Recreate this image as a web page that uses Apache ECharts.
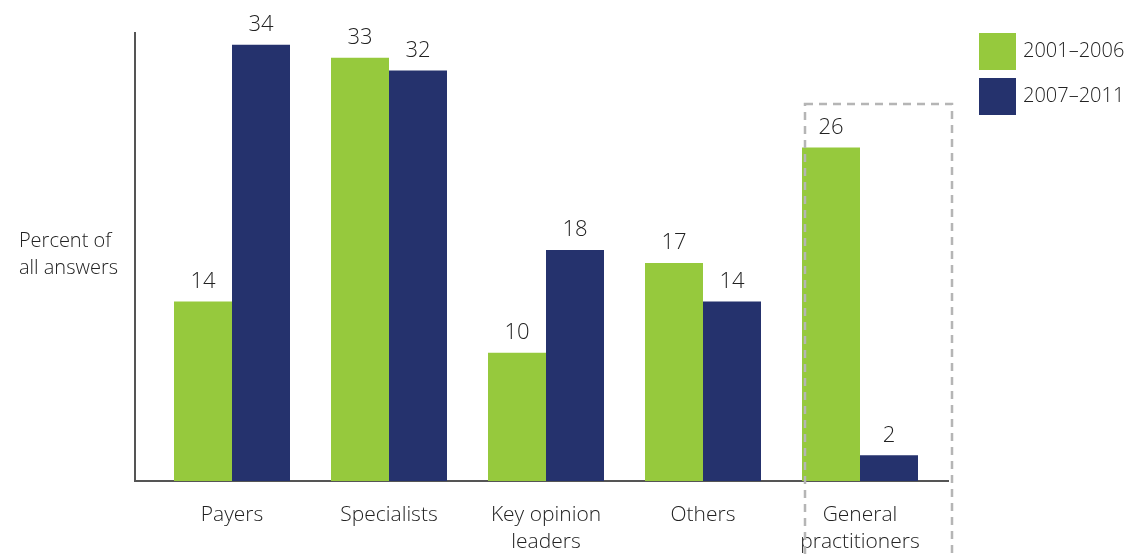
<!DOCTYPE html>
<html>
<head>
<meta charset="utf-8">
<script src="https://cdn.jsdelivr.net/npm/echarts@6/dist/echarts.min.js"></script>
<style>
  html, body { margin: 0; padding: 0; background: #fff; }
  #chart { width: 1130px; height: 558px; }
</style>
</head>
<body>
<div id="chart"></div>
<script>
const categories = ['Payers', 'Specialists', 'Key opinion\nleaders', 'Others', 'General\npractitioners']
const seriesNames = ['2001–2006', '2007–2011']
const early = [14, 33, 10, 17, 26]
const late = [34, 32, 18, 14, 2]

const GREEN = '#96c93d'
const NAVY = '#25326d'
const FONT = 'Open Sans'
const TEXT = '#222'

const chart = echarts.init(document.getElementById('chart'))

const labelStyle = {
  show: true,
  position: 'top',
  distance: 9,
  color: TEXT,
  fontSize: 22,
  fontWeight: 300,
  fontFamily: FONT
}

const option = {
  animation: false,
  backgroundColor: '#ffffff',
  textStyle: { fontFamily: FONT },
  grid: { left: 153.5, width: 785, top: 32, bottom: 77 },
  legend: {
    orient: 'vertical',
    left: 979,
    top: 33,
    padding: 0,
    itemWidth: 37,
    itemHeight: 37,
    itemGap: 8,
    icon: 'rect',
    data: seriesNames,
    textStyle: { fontSize: 20, fontWeight: 300, color: TEXT, fontFamily: FONT, padding: [0, 0, 0, 2] }
  },
  xAxis: {
    type: 'category',
    data: categories,
    axisLine: { show: false },
    axisTick: { show: false },
    axisLabel: {
      margin: 21,
      fontSize: 21,
      fontWeight: 300,
      lineHeight: 27,
      color: TEXT,
      fontFamily: FONT,
      interval: 0
    }
  },
  yAxis: {
    type: 'value',
    min: 0,
    max: 35,
    show: false
  },
  graphic: [
    // axes lines
    { type: 'line', shape: { x1: 135, y1: 32, x2: 135, y2: 481 }, style: { stroke: '#555', lineWidth: 2 } },
    { type: 'line', shape: { x1: 134, y1: 481, x2: 949, y2: 481 }, style: { stroke: '#555', lineWidth: 2 } },
    // dashed highlight box
    {
      type: 'rect',
      shape: { x: 805, y: 104, width: 147, height: 470 },
      style: { fill: 'none', stroke: '#b5b5b5', lineWidth: 2.5, lineDash: [8, 6] },
      z: 10
    },
    // y axis name
    {
      type: 'text',
      right: 1130 - 118,
      top: 228,
      style: {
        text: 'Percent of\nall answers',
        align: 'right',
        fontSize: 20,
        fontWeight: 300,
        lineHeight: 27,
        fill: TEXT,
        fontFamily: FONT
      }
    }
  ],
  series: [
    {
      name: seriesNames[0],
      type: 'bar',
      data: early,
      barWidth: 58,
      barGap: 0,
      itemStyle: { color: GREEN },
      label: labelStyle
    },
    {
      name: seriesNames[1],
      type: 'bar',
      data: late,
      barWidth: 58,
      itemStyle: { color: NAVY },
      label: labelStyle
    }
  ]
}

chart.setOption(option)
</script>
</body>
</html>
